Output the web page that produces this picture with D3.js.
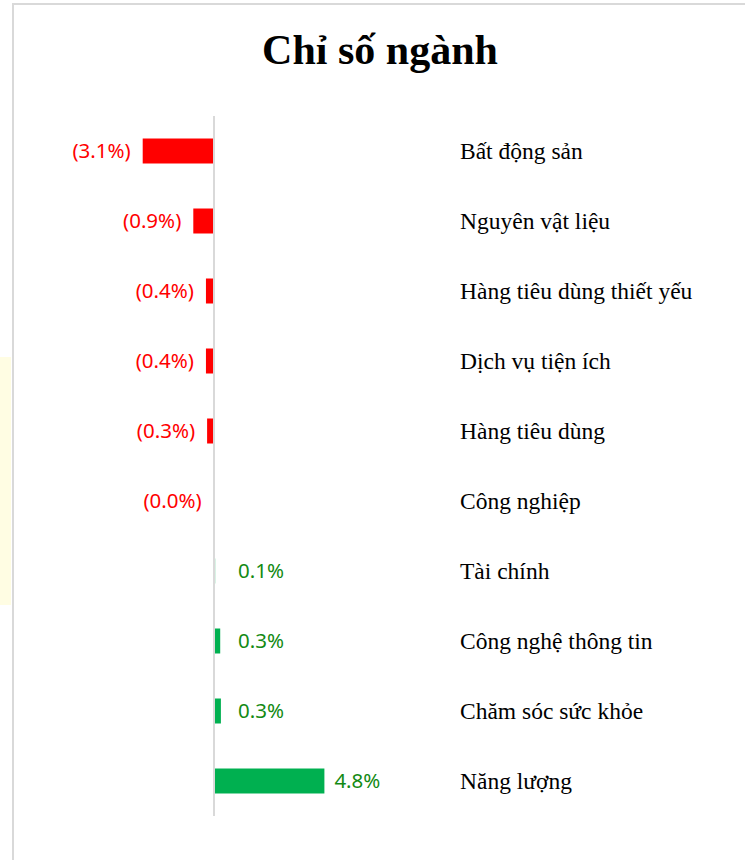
<!DOCTYPE html>
<html>
<head>
  <meta charset="utf-8">
  <title>Chỉ số ngành</title>
  <style>
    body { margin: 0; background: #fff; }
  </style>
</head>
<body>
  <script src="https://d3js.org/d3.v7.min.js"></script>
  <script>
  'use strict'

  const w = 745
  const h = 860

  const sectors = ['Bất động sản', 'Nguyên vật liệu', 'Hàng tiêu dùng thiết yếu', 'Dịch vụ tiện ích',
    'Hàng tiêu dùng', 'Công nghiệp', 'Tài chính', 'Công nghệ thông tin', 'Chăm sóc sức khỏe', 'Năng lượng']
  const changes = [-3.1, -0.9, -0.35, -0.35, -0.3, -0.01, 0.05, 0.27, 0.3, 4.8]
  const labels = ['(3.1%)', '(0.9%)', '(0.4%)', '(0.4%)', '(0.3%)', '(0.0%)', '0.1%', '0.3%', '0.3%', '4.8%']

  const rows = sectors.map((s, i) => ({ name: s, v: changes[i], label: labels[i] }))

  const svg = d3.select('body')
    .append('svg')
    .attr('width', w)
    .attr('height', h)

  // faint yellow patch outside the chart frame
  svg.append('rect')
    .attr('x', 0).attr('y', 357)
    .attr('width', 11).attr('height', 248)
    .attr('fill', '#fffde3')

  // chart frame (top + left edges visible)
  svg.append('path')
    .attr('d', 'M13,' + h + ' V4 H' + w)
    .attr('fill', 'none')
    .attr('stroke', '#d9d9d9')
    .attr('stroke-width', 2)

  svg.append('text')
    .attr('x', 380)
    .attr('y', 64)
    .attr('text-anchor', 'middle')
    .attr('font-family', '"Liberation Serif", "Times New Roman", serif')
    .attr('font-weight', 'bold')
    .attr('font-size', '42px')
    .attr('fill', '#000')
    .text('Chỉ số ngành')

  const x = d3.scaleLinear()
    .domain([-5, 5])
    .range([99, 329])

  const y = d3.scaleBand()
    .domain(sectors)
    .range([116, 816])
    .paddingInner(0.643)
    .paddingOuter(0.3215)

  svg.selectAll('rect.bar')
    .data(rows)
    .enter()
    .append('rect')
    .attr('class', 'bar')
    .attr('x', d => Math.min(x(d.v), x(0)))
    .attr('y', d => y(d.name))
    .attr('width', d => Math.max(Math.abs(x(d.v) - x(0)), 0))
    .attr('height', y.bandwidth())
    .attr('fill', d => d.v < 0 ? '#ff0000' : '#00b050')

  // zero axis line
  svg.append('line')
    .attr('x1', x(0)).attr('x2', x(0))
    .attr('y1', 116).attr('y2', 816)
    .attr('stroke', '#d9d9d9')
    .attr('stroke-width', 2)

  // value labels
  svg.selectAll('text.val')
    .data(rows)
    .enter()
    .append('text')
    .attr('class', 'val')
    .attr('x', d => d.v < 0 ? Math.min(x(d.v) - 12, x(0) - 7) : Math.max(x(d.v) + 10, x(0) + 24))
    .attr('y', d => y(d.name) + y.bandwidth() / 2)
    .attr('dy', '0.36em')
    .attr('text-anchor', d => d.v < 0 ? 'end' : 'start')
    .attr('font-family', '"Noto Sans", "Open Sans", sans-serif')
    .attr('font-size', '20.5px')
    .attr('fill', d => d.v < 0 ? '#ff0000' : '#138a13')
    .text(d => d.label)

  // category labels
  svg.selectAll('text.cat')
    .data(rows)
    .enter()
    .append('text')
    .attr('class', 'cat')
    .attr('x', 460)
    .attr('y', d => y(d.name) + y.bandwidth() / 2)
    .attr('dy', '0.35em')
    .attr('font-family', '"Liberation Serif", "Times New Roman", serif')
    .attr('font-size', '23.5px')
    .attr('fill', '#000')
    .text(d => d.name)
  </script>
</body>
</html>
